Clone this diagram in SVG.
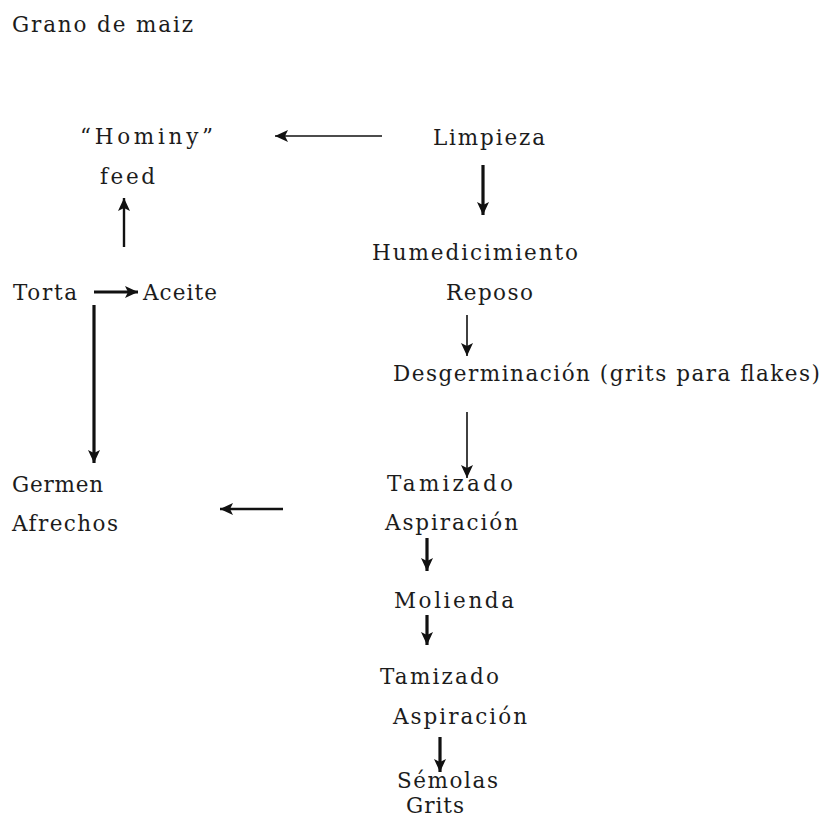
<svg xmlns="http://www.w3.org/2000/svg" width="823" height="817" viewBox="0 0 823 817">
<style>
text{font-family:"DejaVu Serif","Liberation Serif",serif;font-size:21.5px;fill:#1c1c1c;}
.c line{stroke:#111;fill:none;}
.thin{stroke-width:1.6;}
.mid{stroke-width:2.4;}
.thick{stroke-width:3.2;}
</style>
<defs>
<marker id="ah" markerUnits="userSpaceOnUse" markerWidth="14" markerHeight="12" refX="13" refY="6" orient="auto">
<path d="M0,0 L13,6 L0,12 L3,6 Z" fill="#111"/>
</marker>
</defs>
<rect width="823" height="817" fill="#fff"/>
<g id="grano"><text x="12" y="32" textLength="181" lengthAdjust="spacing">Grano de maiz</text></g>
<g id="hominy"><text x="80" y="144" textLength="133" lengthAdjust="spacing">“Hominy”</text><text x="100" y="184" textLength="55" lengthAdjust="spacing">feed</text></g>
<g id="limpieza"><text x="433" y="145" textLength="112" lengthAdjust="spacing">Limpieza</text></g>
<g id="humedicimiento"><text x="372" y="260" textLength="206" lengthAdjust="spacing">Humedicimiento</text><text x="446" y="300" textLength="87" lengthAdjust="spacing">Reposo</text></g>
<g id="torta"><text x="13" y="300" textLength="64" lengthAdjust="spacing">Torta</text></g>
<g id="aceite"><text x="143" y="300" textLength="74" lengthAdjust="spacing">Aceite</text></g>
<g id="desgerminacion"><text x="393" y="381" textLength="427" lengthAdjust="spacing">Desgerminación (grits para flakes)</text></g>
<g id="germen"><text x="12" y="492" textLength="91" lengthAdjust="spacing">Germen</text><text x="12" y="531" textLength="106" lengthAdjust="spacing">Afrechos</text></g>
<g id="tamizado1"><text x="387" y="491" textLength="126" lengthAdjust="spacing">Tamizado</text><text x="385" y="530" textLength="133" lengthAdjust="spacing">Aspiración</text></g>
<g id="molienda"><text x="394" y="608" textLength="120" lengthAdjust="spacing">Molienda</text></g>
<g id="tamizado2"><text x="380" y="684" textLength="119" lengthAdjust="spacing">Tamizado</text><text x="393" y="724" textLength="134" lengthAdjust="spacing">Aspiración</text></g>
<g id="semolas"><text x="397" y="788" textLength="101" lengthAdjust="spacing">Sémolas</text><text x="406" y="813" textLength="58" lengthAdjust="spacing">Grits</text></g>
<g id="connectors" class="c">
<line class="thin" x1="382" y1="136" x2="275" y2="136" marker-end="url(#ah)"/>
<line class="thick" x1="483" y1="165" x2="483" y2="215" marker-end="url(#ah)"/>
<line class="mid" x1="124" y1="247" x2="124" y2="198" marker-end="url(#ah)"/>
<line class="thick" x1="94" y1="292" x2="138" y2="292" marker-end="url(#ah)"/>
<line class="thick" x1="94" y1="305" x2="94" y2="463" marker-end="url(#ah)"/>
<line class="thin" x1="467" y1="315" x2="467" y2="356" marker-end="url(#ah)"/>
<line class="thin" x1="467" y1="412" x2="467" y2="478" marker-end="url(#ah)"/>
<line class="mid" x1="283" y1="509" x2="220" y2="509" marker-end="url(#ah)"/>
<line class="thick" x1="427" y1="538" x2="427" y2="571" marker-end="url(#ah)"/>
<line class="thick" x1="427" y1="615" x2="427" y2="645" marker-end="url(#ah)"/>
<line class="thick" x1="440" y1="737" x2="440" y2="772" marker-end="url(#ah)"/>
</g>
</svg>
